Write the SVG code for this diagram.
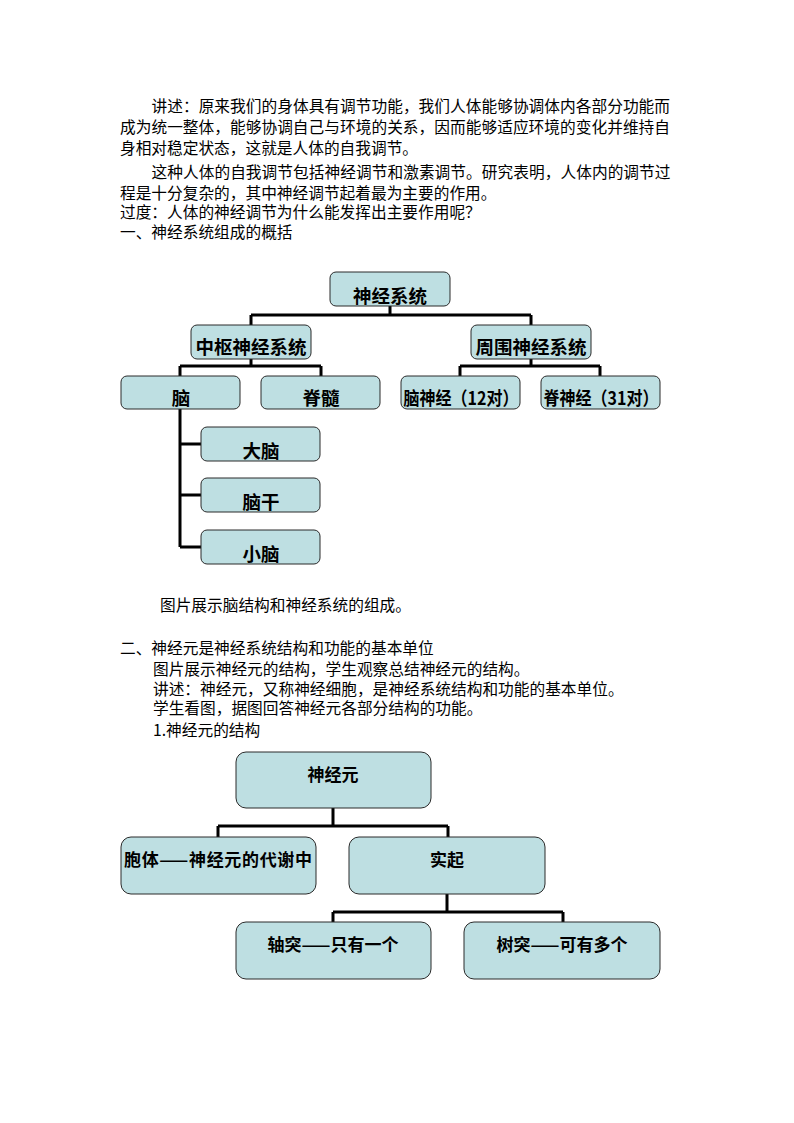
<svg xmlns="http://www.w3.org/2000/svg" width="794" height="1123" viewBox="0 0 794 1123">
<style>
.body{font-family:"Noto Sans CJK SC","Liberation Sans",sans-serif;font-size:15.7px;fill:#000;}
.box{fill:#BEDFE2;stroke:#2a2a2a;stroke-width:1;}
.lbl{font-family:"Noto Sans CJK SC","Liberation Sans",sans-serif;font-size:18.5px;font-weight:bold;fill:#000;text-anchor:middle;}
.lbl2{font-family:"Noto Sans CJK SC","Liberation Sans",sans-serif;font-size:17px;font-weight:bold;fill:#000;text-anchor:middle;}
.con{fill:none;stroke:#000;stroke-width:3;stroke-linejoin:miter;}
</style>
<rect width="794" height="1123" fill="#fff"/>
<g id="text-top">
<text class="body" x="151.5" y="112" textLength="518.5" lengthAdjust="spacing">讲述：原来我们的身体具有调节功能，我们人体能够协调体内各部分功能而</text>
<text class="body" x="120" y="133" textLength="550" lengthAdjust="spacing">成为统一整体，能够协调自己与环境的关系，因而能够适应环境的变化并维持自</text>
<text class="body" x="120" y="154">身相对稳定状态，这就是人体的自我调节。</text>
<text class="body" x="151.5" y="178" textLength="519" lengthAdjust="spacing">这种人体的自我调节包括神经调节和激素调节。研究表明，人体内的调节过</text>
<text class="body" x="120" y="199">程是十分复杂的，其中神经调节起着最为主要的作用。</text>
<text class="body" x="120" y="218">过度：人体的神经调节为什么能发挥出主要作用呢？</text>
<text class="body" x="120" y="238">一、神经系统组成的概括</text>
</g>
<g id="connectors-1">
<path class="con" d="M390,306 V315 M251,315 H531 M251,315 V325 M531,315 V325"/>
<path class="con" d="M251,359 V366 M180,366 H321 M180,366 V376 M321,366 V376"/>
<path class="con" d="M531,359 V366 M460,366 H600 M460,366 V376 M600,366 V376"/>
<path class="con" d="M180,409 V547 M180,444 H201 M180,495 H201 M180,547 H201"/>
</g>
<g id="n-shenjingxitong"><rect class="box" x="330" y="272" width="120" height="34" rx="6"/><text class="lbl" x="390" y="303">神经系统</text></g>
<g id="n-zhongshu"><rect class="box" x="191" y="325" width="120" height="34" rx="6"/><text class="lbl" x="251" y="354">中枢神经系统</text></g>
<g id="n-zhouwei"><rect class="box" x="471" y="325" width="120" height="34" rx="6"/><text class="lbl" x="531" y="354">周围神经系统</text></g>
<g id="n-nao"><rect class="box" x="121" y="376" width="119" height="33" rx="6"/><text class="lbl" x="181" y="405">脑</text></g>
<g id="n-jisui"><rect class="box" x="261" y="376" width="119" height="33" rx="6"/><text class="lbl" x="321" y="405">脊髓</text></g>
<g id="n-naoshenjing"><rect class="box" x="401" y="376" width="119" height="33" rx="6"/><text class="lbl" x="461" y="405" textLength="115" lengthAdjust="spacingAndGlyphs">脑神经（12对）</text></g>
<g id="n-jishenjing"><rect class="box" x="541" y="376" width="119" height="33" rx="6"/><text class="lbl" x="601" y="405" textLength="115" lengthAdjust="spacingAndGlyphs">脊神经（31对）</text></g>
<g id="n-danao"><rect class="box" x="201" y="427" width="119" height="34" rx="6"/><text class="lbl" x="261" y="458">大脑</text></g>
<g id="n-naogan"><rect class="box" x="201" y="478" width="119" height="34" rx="6"/><text class="lbl" x="261" y="509">脑干</text></g>
<g id="n-xiaonao"><rect class="box" x="201" y="530" width="119" height="34" rx="6"/><text class="lbl" x="261" y="561">小脑</text></g>
<g id="text-mid">
<text class="body" x="160" y="611">图片展示脑结构和神经系统的组成。</text>
<text class="body" x="120" y="654">二、神经元是神经系统结构和功能的基本单位</text>
<text class="body" x="153" y="675">图片展示神经元的结构，学生观察总结神经元的结构。</text>
<text class="body" x="153" y="695">讲述：神经元，又称神经细胞，是神经系统结构和功能的基本单位。</text>
<text class="body" x="153" y="714">学生看图，据图回答神经元各部分结构的功能。</text>
<text class="body" x="153" y="736">1.神经元的结构</text>
</g>
<g id="connectors-2">
<path class="con" d="M333,808 V826 M218,826 H448 M218,826 V837 M448,826 V837"/>
<path class="con" d="M447,894 V912 M333,912 H563 M333,912 V922 M563,912 V922"/>
</g>
<g id="n-shenjingyuan"><rect class="box" x="236" y="752" width="195" height="56" rx="10"/><text class="lbl2" x="333" y="781">神经元</text></g>
<g id="n-baoti"><rect class="box" x="121" y="837" width="195" height="57" rx="10"/><text class="lbl2" x="218" y="866" textLength="188" lengthAdjust="spacing">胞体——神经元的代谢中</text></g>
<g id="n-tuqi"><rect class="box" x="349" y="837" width="196" height="57" rx="10"/><text class="lbl2" x="447" y="866">实起</text></g>
<g id="n-zhoutu"><rect class="box" x="236" y="922" width="195" height="57" rx="10"/><text class="lbl2" x="333" y="951">轴突——只有一个</text></g>
<g id="n-shutu"><rect class="box" x="464" y="922" width="196" height="57" rx="10"/><text class="lbl2" x="562" y="951">树突——可有多个</text></g>
</svg>
